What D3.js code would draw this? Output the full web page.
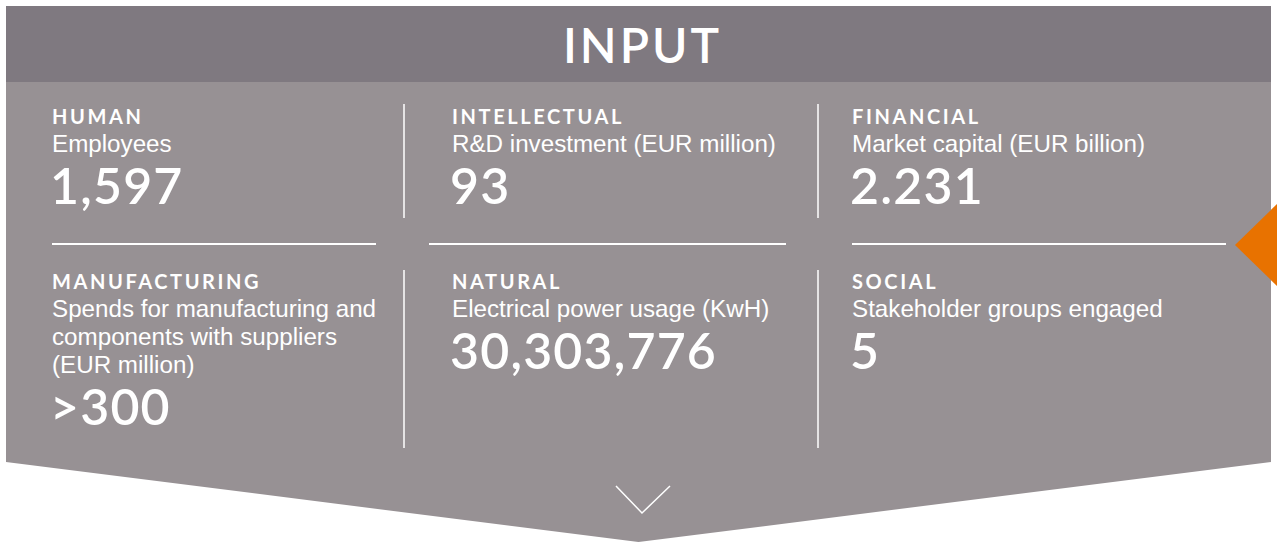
<!DOCTYPE html>
<html>
<head>
<meta charset="utf-8">
<script src="https://cdn.jsdelivr.net/npm/d3@7"></script>
<style>
  body { margin: 0; background: #fff; }
  svg { display: block; }
</style>
</head>
<body>
<div id="chart"></div>
<script>
// the six capitals shown in the panel
var categories = ["HUMAN", "INTELLECTUAL", "FINANCIAL", "MANUFACTURING", "NATURAL", "SOCIAL"];
var descriptions = [
    ["Employees"],
    ["R&D investment (EUR million)"],
    ["Market capital (EUR billion)"],
    ["Spends for manufacturing and", "components with suppliers", "(EUR million)"],
    ["Electrical power usage (KwH)"],
    ["Stakeholder groups engaged"]
];
var values = ["1,597", "93", "2.231", ">300", "30,303,776", "5"];
var title = "INPUT";

var width = 1277, height = 542;
// note: "top" is taken by window.top, so use boxTop
var boxLeft = 6, boxRight = 1271, boxTop = 6, headH = 76, sideBottom = 462, tipY = 542;

var svg = d3.select("#chart").append("svg")
    .attr("width", width)
    .attr("height", height);

// columns and rows
var col = d3.scaleLinear().domain([0, 1]).range([52, 452]);
var rowY = [124, 289];

// body shape with the down pointing bottom
svg.append("path")
    .attr("d", d3.line()([[boxLeft, boxTop + headH], [boxRight, boxTop + headH], [boxRight, sideBottom],
                          [width / 2, tipY], [boxLeft, sideBottom]]) + "Z")
    .attr("fill", "#979194");

// header
svg.append("rect")
    .attr("x", boxLeft).attr("y", boxTop)
    .attr("width", boxRight - boxLeft).attr("height", headH)
    .attr("fill", "#7f7980");

svg.append("text")
    .attr("x", width / 2 + 4)
    .attr("y", 63)
    .attr("text-anchor", "middle")
    .attr("fill", "#fff")
    .style("font-family", "Lato, sans-serif")
    .style("font-size", "48px")
    .style("font-weight", 600)
    .style("letter-spacing", "3px")
    .text(title);

// vertical dividers
[[104, 218], [270, 448]].forEach(function(r) {
    [404, 818].forEach(function(x) {
        svg.append("line")
            .attr("x1", x).attr("x2", x)
            .attr("y1", r[0]).attr("y2", r[1])
            .attr("stroke", "#fff").attr("stroke-width", 1.5);
    });
});

// horizontal dividers
[[52, 376], [429, 786], [852, 1226]].forEach(function(s) {
    svg.append("line")
        .attr("x1", s[0]).attr("x2", s[1])
        .attr("y1", 244).attr("y2", 244)
        .attr("stroke", "#fff").attr("stroke-width", 2);
});

// orange marker on the right edge
svg.append("path")
    .attr("d", d3.line()([[1235, 245], [1277, 204], [1277, 286]]) + "Z")
    .attr("fill", "#e87200");

// small chevron
svg.append("path")
    .attr("d", d3.line()([[616, 486], [642, 513], [670, 486]]))
    .attr("fill", "none")
    .attr("stroke", "#fff")
    .attr("stroke-width", 1.5);

// the cells
var cells = svg.selectAll("g.cell")
    .data(categories)
    .enter().append("g")
    .attr("class", "cell")
    .attr("transform", function(d, i) {
        return "translate(" + col(i % 3) + "," + rowY[Math.floor(i / 3)] + ")";
    });

cells.append("text")
    .attr("fill", "#fff")
    .style("font-family", "Lato, sans-serif")
    .style("font-size", "20px")
    .style("font-weight", 700)
    .style("letter-spacing", "2.6px")
    .text(function(d) { return d; });

cells.each(function(d, i) {
    var g = d3.select(this);
    descriptions[i].forEach(function(line, j) {
        g.append("text")
            .attr("y", 28 + j * 28)
            .attr("fill", "#fff")
            .style("font-family", "'Liberation Sans', Arial, sans-serif")
            .style("font-size", "24.2px")
            .text(line);
    });
    g.append("text")
        .attr("x", -2)
        .attr("y", 28 + (descriptions[i].length - 1) * 28 + 52)
        .attr("fill", "#fff")
        .style("font-family", "Lato, sans-serif")
        .style("font-size", "50px")
        .style("font-weight", 600)
        .style("letter-spacing", "1.2px")
        .text(values[i]);
});
</script>
</body>
</html>
